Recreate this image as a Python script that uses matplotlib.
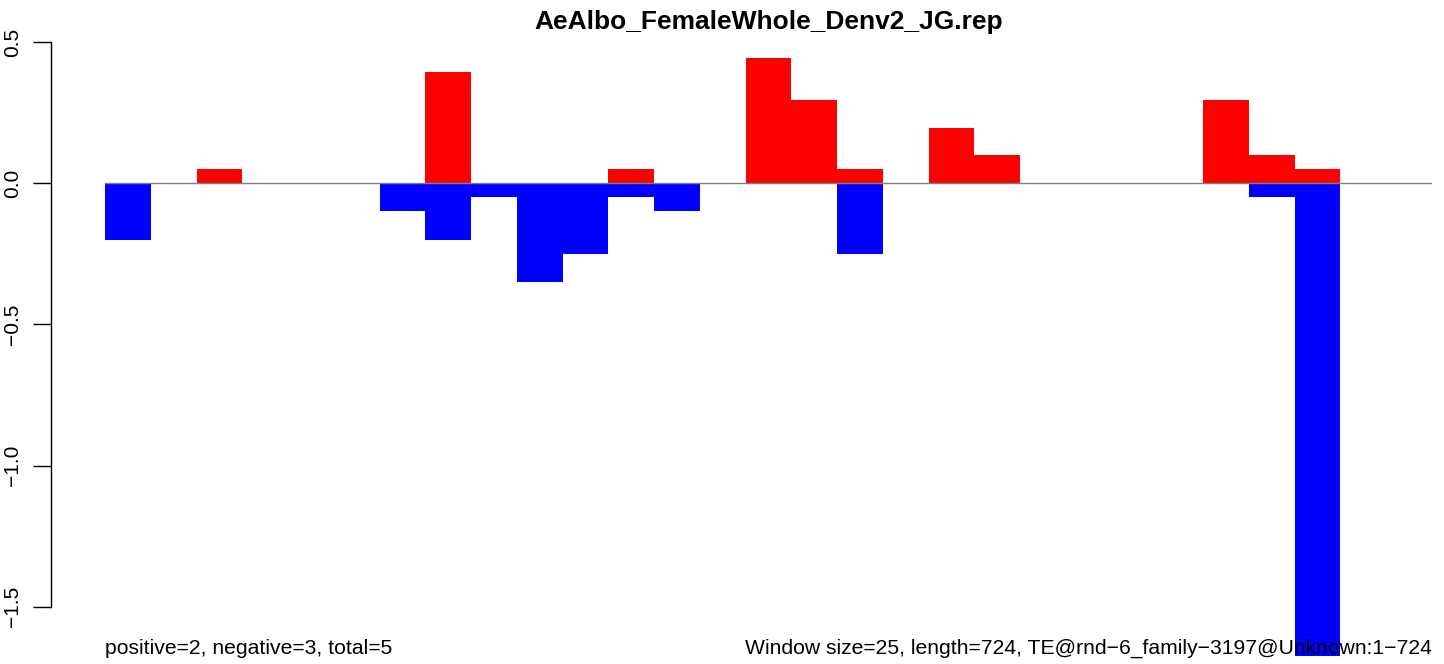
import matplotlib
matplotlib.use("Agg")
import matplotlib.pyplot as plt
import matplotlib.transforms as mtransforms
import numpy as np

title = "AeAlbo_FemaleWhole_Denv2_JG.rep"
pos_vals = [0, 0, 0.05, 0, 0, 0, 0, 0.393, 0, 0, 0, 0.05, 0, 0, 0.443, 0.295, 0.05, 0,
            0.195, 0.099, 0, 0, 0, 0, 0.295, 0.099, 0.05, 0, 0]
neg_vals = [-0.2, 0, 0, 0, 0, 0, -0.1, -0.2, -0.05, -0.35, -0.25, -0.05, -0.1, 0, 0, 0,
            -0.25, 0, 0, 0, 0, 0, 0, 0, 0, -0.05, -1.68, 0, 0]
yticks = [-1.5, -1.0, -0.5, 0.0, 0.5]
left_note = "positive=2, negative=3, total=5"
right_note = "Window size=25, length=724, TE@rnd\u22126_family\u22123197@Unknown:1\u2212724"

plt.rcParams['font.family'] = ['Liberation Sans', 'DejaVu Sans']

W, H = 1444, 664
fig = plt.figure(figsize=(W / 100, H / 100), dpi=100)
ax = fig.add_axes([51 / W, 1 - 656 / H, (1432 - 51) / W, (656 - 36) / H])

n = len(pos_vals)
x = np.arange(n)
ax.bar(x, pos_vals, width=1.0, align='edge', color='#FF0000', linewidth=0, zorder=2)
ax.bar(x, neg_vals, width=1.0, align='edge', color='#0000FF', linewidth=0, zorder=2)
ax.hlines(0, 0, n, color='#808080', linewidth=1.0, zorder=3)

# y scale: 0.5 at px 42, -1.5 at px 606.7
ppu = (606.7 - 42) / 2.0
ytop = 0.5 + (42 - 36) / ppu
ybot = -1.5 - (656 - 606.7) / ppu
ax.set_ylim(ybot, ytop)
xl = -(105 - 51) / ((1432 - 105) / n)
ax.set_xlim(xl, n)

for s in ['top', 'right', 'bottom']:
    ax.spines[s].set_visible(False)
ax.spines['left'].set_bounds(-1.5, 0.5)
ax.spines['left'].set_linewidth(1.0)
ax.set_xticks([])
ax.set_yticks(yticks)
ax.set_yticklabels([f"{v:.1f}".replace('-', '\u2212') for v in yticks],
                   rotation=90, va='center', fontsize=15)
ax.tick_params(axis='y', length=13, width=1.0, pad=8)

fig.text(0.5 * (105 + 1432) / W, 1 - 22 / H, title, ha='center', va='center',
         fontsize=19, fontweight='bold')

trans = mtransforms.blended_transform_factory(ax.transData, fig.transFigure)
ax.text(0, 1 - 648 / H, left_note, transform=trans, ha='left', va='center',
        fontsize=15.2, zorder=5, clip_on=False)
ax.text(n, 1 - 648 / H, right_note, transform=trans, ha='right', va='center',
        fontsize=15.2, zorder=5, clip_on=False)

fig.savefig("out.png", dpi=100)
